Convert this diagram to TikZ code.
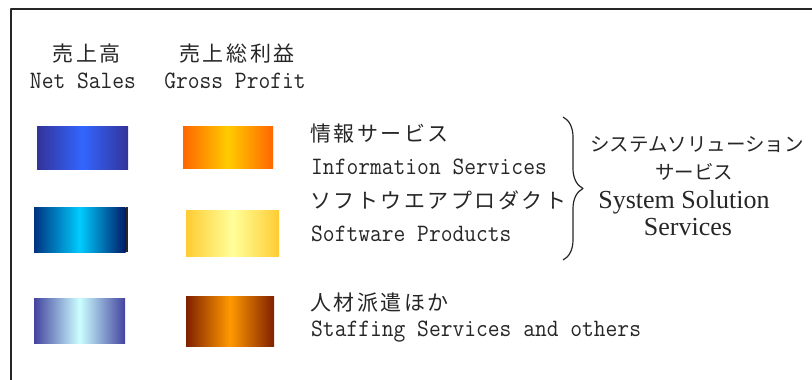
\documentclass[tikz,border=0pt]{standalone}
\usepackage{fontspec}
\setmainfont{Liberation Serif}
\newfontfamily\jpmono[LetterSpace=12]{Noto Sans CJK JP}
\newfontfamily\jpprop{Noto Sans CJK JP}
\newfontfamily\latmono[FakeStretch=0.915]{Latin Modern Mono}
\usetikzlibrary{decorations.pathreplacing}
\definecolor{ink}{HTML}{262626}
\begin{document}
\begin{tikzpicture}[x=1pt,y=-1pt, line join=round]
	\tikzset{jp/.style={font=\jpmono\fontsize{21}{24}\selectfont, text=ink, inner sep=0pt},
		en/.style={font=\latmono\fontsize{25}{28}\selectfont, text=ink, inner sep=0pt},
		jpc/.style={font=\jpprop\fontsize{19.5}{22}\selectfont, text=ink, inner sep=0pt, anchor=base},
		enc/.style={font=\fontsize{26}{30}\selectfont, text=ink, inner sep=0pt, anchor=base}}
	\useasboundingbox (0,0) rectangle (812,380);
	% frame
	\draw[ink, line width=2pt] (11,380) -- (11,9) -- (812,9);
	% column heads
	\node[jp, anchor=base] (netjp) at (87,61) {売上高};
	\node[en, anchor=base] (neten) at (83,88) {Net Sales};
	\node[jp, anchor=base] (grossjp) at (237,61) {売上総利益};
	\node[en, anchor=base] (grossen) at (235,88) {Gross Profit};
	% swatches
	\shade[left color={rgb,255:red,51;green,51;blue,153}, right color={rgb,255:red,51;green,51;blue,153}, middle color={rgb,255:red,51;green,102;blue,255}] (37,126) rectangle (128,169);
	\shade[left color={rgb,255:red,255;green,102;blue,0}, right color={rgb,255:red,255;green,102;blue,0}, middle color={rgb,255:red,255;green,204;blue,0}] (183,126) rectangle (273,168);
	\shade[left color={rgb,255:red,0;green,51;blue,128}, right color={rgb,255:red,0;green,26;blue,102}, middle color={rgb,255:red,0;green,204;blue,255}] (34,207) rectangle (125.5,252);
	\fill[ink] (125.5,207) rectangle (128,252);
	\shade[left color={rgb,255:red,255;green,204;blue,51}, right color={rgb,255:red,255;green,204;blue,51}, middle color={rgb,255:red,255;green,255;blue,153}] (186,210) rectangle (279,256);
	\shade[left color={rgb,255:red,68;green,68;blue,160}, right color={rgb,255:red,68;green,68;blue,160}, middle color={rgb,255:red,204;green,255;blue,255}] (34,298) rectangle (125,343);
	\shade[left color={rgb,255:red,128;green,32;blue,0}, right color={rgb,255:red,128;green,32;blue,0}, middle color={rgb,255:red,255;green,153;blue,0}] (186,296) rectangle (274,346);
	% segment labels
	\node[jp, anchor=base west] (infojp) at (310,141) {情報サービス};
	\node[en, anchor=base west] (infoen) at (311,174) {Information Services};
	\node[jp, anchor=base west] (softjp) at (310,208) {ソフトウエアプロダクト};
	\node[en, anchor=base west] (soften) at (311,241) {Software Products};
	\node[jp, anchor=base west] (staffjp) at (310,310) {人材派遣ほか};
	\node[en, anchor=base west] (staffen) at (311,336) {Staffing Services and others};
	% brace and group
	\coordinate (bracetop) at (563,117);
	\coordinate (bracebot) at (563,260);
	\draw[ink, line width=1.2pt, decorate, decoration={brace, amplitude=20pt}] (bracetop) -- (bracebot);
	\node[jpc] (sysjp) at (697,151) {システムソリューション};
	\node[jpc] (sysjpb) at (694,179) {サービス};
	\node[enc] (sysen) at (684,208) {System Solution};
	\node[enc] (sysenb) at (688,235) {Services};
\end{tikzpicture}
\end{document}
